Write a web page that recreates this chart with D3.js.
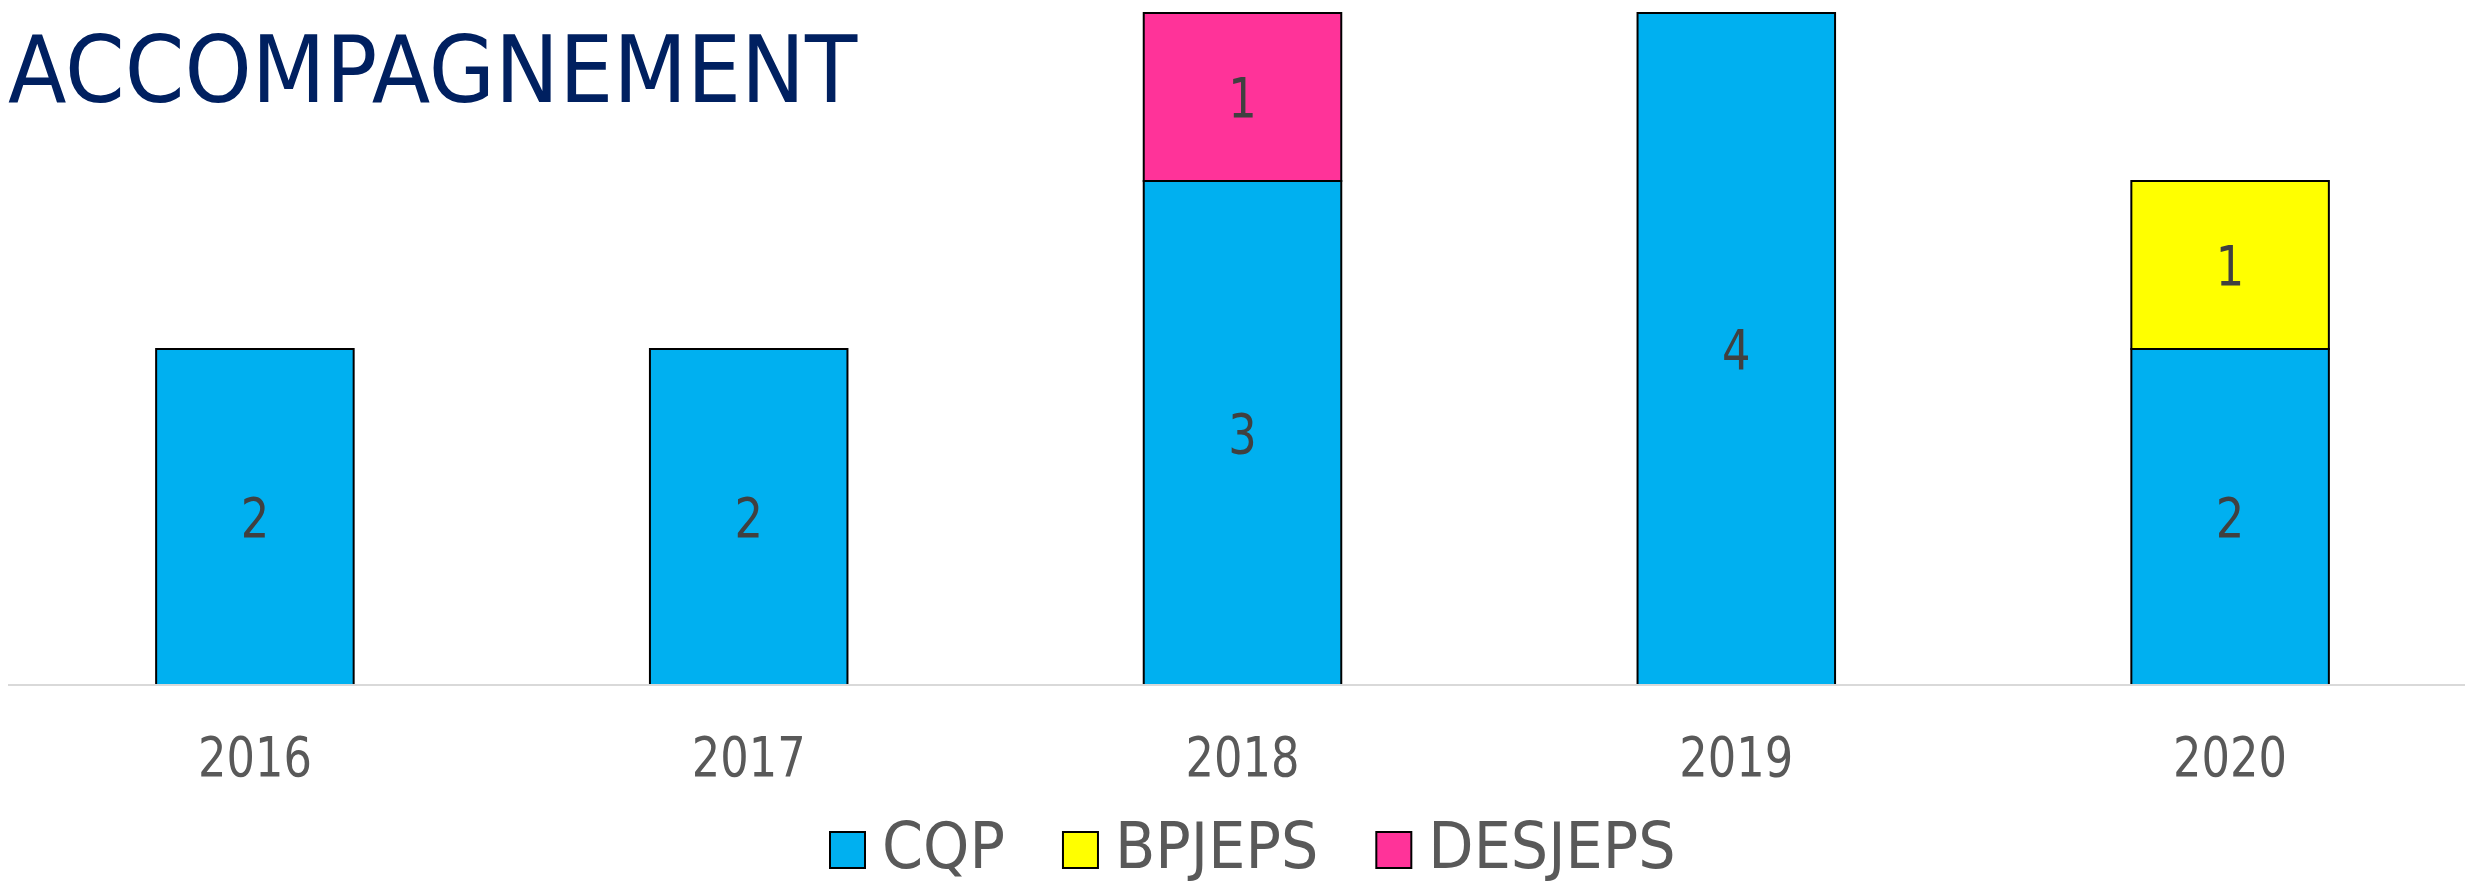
<!DOCTYPE html>
<html>
<head>
<meta charset="utf-8">
<script src="https://cdn.jsdelivr.net/npm/d3@7"></script>
<style>
  body { margin: 0; background: #fff; }
  svg { display: block; font-family: "DejaVu Sans", Verdana, sans-serif; }
</style>
</head>
<body>
<div id="chart-area"></div>
<script>
// Data
var years = ["2016", "2017", "2018", "2019", "2020"];
var seriesNames = ["CQP", "BPJEPS", "DESJEPS"];
var cqp = [2, 2, 3, 4, 2];
var bpjeps = [0, 0, 0, 0, 1];
var desjeps = [0, 0, 1, 0, 0];
var colors = ["#00b0f0", "#ffff00", "#ff3399"];

var width = 2465, height = 882;
var baseY = 685, topY = 13;

var svg = d3.select("#chart-area")
    .append("svg")
    .attr("width", width)
    .attr("height", height);

// squeeze text horizontally, the original font is narrower than DejaVu
function squeeze(sel, k) {
    sel.each(function() {
        var w = this.getComputedTextLength();
        d3.select(this)
            .attr("textLength", w * k)
            .attr("lengthAdjust", "spacingAndGlyphs");
    });
}

var rows = years.map(function(y, i) {
    return { year: y, CQP: cqp[i], BPJEPS: bpjeps[i], DESJEPS: desjeps[i] };
});
var stacked = d3.stack().keys(seriesNames)(rows);

// Scales
var x = d3.scaleBand()
    .domain(years)
    .range([8, 2477])
    .paddingInner(0.6)
    .paddingOuter(0.3);
var y = d3.scaleLinear()
    .domain([0, 4])
    .range([baseY, topY]);
var color = d3.scaleOrdinal().domain(seriesNames).range(colors);

// Bars
var layer = svg.selectAll("g.layer")
    .data(stacked)
    .enter().append("g")
    .attr("class", "layer")
    .attr("fill", function(d) { return color(d.key); });

layer.selectAll("rect")
    .data(function(d) { return d.filter(function(p) { return p[1] - p[0] > 0; }); })
    .enter().append("rect")
    .attr("x", function(d) { return x(d.data.year); })
    .attr("y", function(d) { return y(d[1]); })
    .attr("width", x.bandwidth())
    .attr("height", function(d) { return y(d[0]) - y(d[1]); })
    .attr("stroke", "#000")
    .attr("stroke-width", 2);

// Value labels
layer.selectAll("text")
    .data(function(d) { return d.filter(function(p) { return p[1] - p[0] > 0; }); })
    .enter().append("text")
    .attr("x", function(d) { return x(d.data.year) + x.bandwidth() / 2; })
    .attr("y", function(d) { return (y(d[0]) + y(d[1])) / 2; })
    .attr("dy", "0.36em")
    .attr("text-anchor", "middle")
    .attr("font-size", "56px")
    .attr("fill", "#404040")
    .text(function(d) { return d[1] - d[0]; })
    .call(squeeze, 0.8);

// X axis
svg.append("line")
    .attr("x1", 8).attr("x2", width)
    .attr("y1", baseY).attr("y2", baseY)
    .attr("stroke", "#d9d9d9")
    .attr("stroke-width", 2);

var xAxis = svg.append("g")
    .attr("transform", "translate(0," + baseY + ")")
    .call(d3.axisBottom(x).tickSize(0));
xAxis.select(".domain").remove();
xAxis.selectAll("text")
    .attr("y", 91)
    .attr("dy", 0)
    .attr("font-size", "56px")
    .attr("font-family", "DejaVu Sans, Verdana, sans-serif")
    .attr("fill", "#595959")
    .call(squeeze, 0.8);

// Title
svg.append("text")
    .attr("x", 8)
    .attr("y", 102)
    .attr("font-size", "92px")
    .attr("fill", "#002060")
    .text("ACCOMPAGNEMENT")
    .call(squeeze, 0.93);

// Legend
var legendX = 830;
seriesNames.forEach(function(name, i) {
    svg.append("rect")
        .attr("x", legendX).attr("y", 832)
        .attr("width", 35).attr("height", 36)
        .attr("fill", color(name))
        .attr("stroke", "#000")
        .attr("stroke-width", 2);
    var t = svg.append("text")
        .attr("x", legendX + 52)
        .attr("y", 868)
        .attr("font-size", "64px")
        .attr("fill", "#595959")
        .text(name)
        .call(squeeze, 0.92);
    legendX += 52 + (+t.attr("textLength")) + 58;
});
</script>
</body>
</html>
